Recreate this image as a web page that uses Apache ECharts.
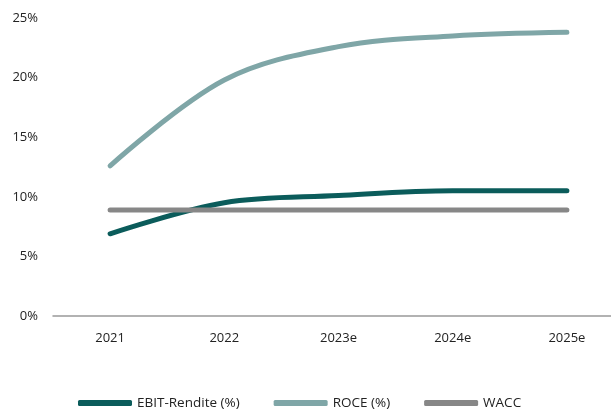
<!DOCTYPE html>
<html><head><meta charset="utf-8">
<script src="https://cdn.jsdelivr.net/npm/echarts@6/dist/echarts.min.js"></script>
<style>html,body{margin:0;padding:0;background:#fff;overflow:hidden;width:611px;height:412px}#c{width:624px;height:412px}</style>
</head><body><div id="c"></div>
<script>
const categories = ['2021','2022','2023e','2024e','2025e'];
const ebit = [6.9, 9.5, 10.1, 10.5, 10.5];
const roce = [12.6, 19.8, 22.6, 23.5, 23.8];
const wacc = [8.9, 8.9, 8.9, 8.9, 8.9];
const yTicks = [0, 5, 10, 15, 20, 25];

const font = 'Open Sans';
const chart = echarts.init(document.getElementById('c'));
function line(name, data, color) {
  return {name, type:'line', data, smooth:0.35, symbol:'none',
    lineStyle:{color, width:5, cap:'round'}, itemStyle:{color}};
}
chart.setOption({
  animation:false,
  grid:{left:53, right:0, top:18, height:298},
  legend:{top:396, left:78, padding:0, itemWidth:54, itemHeight:6, itemGap:34, icon:'roundRect',
    textStyle:{fontFamily:font, fontSize:13.5, color:'#222'},
    data:['EBIT-Rendite (%)','ROCE (%)','WACC']},
  xAxis:{type:'category', data:categories, boundaryGap:true,
    axisLine:{lineStyle:{color:'#999', width:1.5}}, axisTick:{show:false},
    axisLabel:{fontFamily:font, fontSize:13, color:'#222', margin:16}},
  yAxis:{type:'value', min:yTicks[0], max:yTicks[yTicks.length-1], interval:5,
    axisLine:{show:false}, axisTick:{show:false}, splitLine:{show:false},
    axisLabel:{fontFamily:font, fontSize:13, color:'#222', margin:15, formatter:v=>v+'%'}},
  series:[
    line('EBIT-Rendite (%)', ebit, '#0b5c5b'),
    line('ROCE (%)', roce, '#7fa6a7'),
    line('WACC', wacc, '#878787')
  ]
});
</script></body></html>
